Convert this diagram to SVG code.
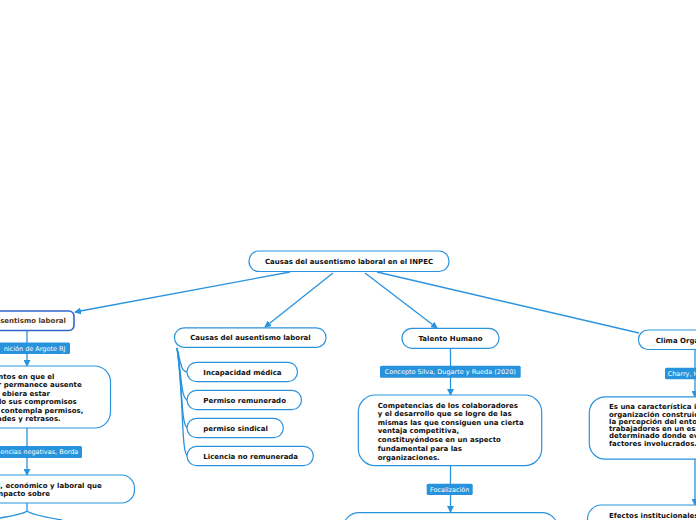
<svg xmlns="http://www.w3.org/2000/svg" width="696" height="520" viewBox="0 0 696 520">
<defs>
<marker id="arr" markerUnits="userSpaceOnUse" markerWidth="7" markerHeight="7" refX="6" refY="3.5" orient="auto">
<path d="M0,0 L7,3.5 L0,7 z" fill="#2a93de"/>
</marker>
<style>
.node{fill:#fff;stroke:#2a93de;stroke-width:1.2}
.root{fill:#fff;stroke:#3566cc;stroke-width:1.6}
.t{font-family:"DejaVu Sans","Liberation Sans",sans-serif;font-size:7px;font-weight:bold;fill:#111}
.lbl{fill:#2793dc}
.lt{font-family:"DejaVu Sans","Liberation Sans",sans-serif;font-size:6.5px;fill:#fff}
.c{fill:none;stroke:#2a93de;stroke-width:1.3}
</style>
</defs>
<rect width="696" height="520" fill="#fff"/>

<g id="connectors">
<path class="c" d="M290,272 L75,312" marker-end="url(#arr)"/>
<path class="c" d="M333,273 L265,327" marker-end="url(#arr)"/>
<path class="c" d="M365,273 L437,328" marker-end="url(#arr)"/>
<path class="c" d="M377,272 L639,333"/>
<path class="c" d="M27,331 L27,366" marker-end="url(#arr)"/>
<path class="c" d="M27,428 L27,475" marker-end="url(#arr)"/>
<path class="c" d="M27,503 L27,511 Q24,514 0,518"/>
<path class="c" d="M27,511 Q32,515 62,520"/>
<path class="c" d="M450.5,348 L450.5,395" marker-end="url(#arr)"/>
<path class="c" d="M450.5,466 L450.5,512" marker-end="url(#arr)"/>
<path class="c" d="M695,350 L695,397" marker-end="url(#arr)"/>
<path class="c" d="M695,459 L695,505" marker-end="url(#arr)"/>
<path class="c" d="M177,348 C181,364 181,372 188,372"/>
<path class="c" d="M177,348 C182,378 181,400 188,400"/>
<path class="c" d="M177,348 C183,390 181,428 188,428"/>
<path class="c" d="M177,348 C184,400 181,456 188,456"/>
</g>

<g id="n-central">
<rect class="node" x="249" y="251" width="200" height="20.5" rx="10"/>
<text class="t" x="349" y="263.7" text-anchor="middle">Causas del ausentismo laboral en el INPEC</text>
</g>

<g id="n-ausentismo">
<rect class="root" x="-20" y="311" width="94" height="19.5" rx="5"/>
<text class="t" x="66" y="323.3" text-anchor="end" style="fill:#5a3512">sentismo laboral</text>
</g>
<g id="l-argote">
<rect class="lbl" x="-10" y="342.5" width="80" height="11.5" rx="1.5"/>
<text class="lt" x="65.5" y="350.6" text-anchor="end">nición de Argote RJ</text>
</g>
<g id="n-definicion">
<rect class="node" x="-40" y="366" width="150.5" height="62" rx="16"/>
<text class="t" x="54.5" y="378.7" text-anchor="end">ntos en que el</text>
<text class="t" x="81.7" y="387.2" text-anchor="end">r permanece ausente</text>
<text class="t" x="50" y="395.7" text-anchor="end">ebiera estar</text>
<text class="t" x="76.7" y="404.2" text-anchor="end">lo sus compromisos</text>
<text class="t" x="83.3" y="412.7" text-anchor="end">contempla permisos,</text>
<text class="t" x="60.7" y="421.2" text-anchor="end">ades y retrasos.</text>
</g>
<g id="l-borda">
<rect class="lbl" x="-10" y="446" width="92" height="12" rx="1.5"/>
<text class="lt" x="78.3" y="454.3" text-anchor="end">encias negativas, Borda</text>
</g>
<g id="n-impacto">
<rect class="node" x="-40" y="475" width="174.5" height="28" rx="13"/>
<text class="t" x="101.7" y="487.6" text-anchor="end">l, económico y laboral que</text>
<text class="t" x="50" y="496.1" text-anchor="end">npacto sobre</text>
</g>

<g id="n-causas">
<rect class="node" x="174.5" y="327.8" width="151.5" height="19.5" rx="9.5"/>
<text class="t" x="250.5" y="340.2" text-anchor="middle">Causas del ausentismo laboral</text>
</g>
<g id="n-incapacidad">
<rect class="node" x="187" y="362.3" width="110.5" height="19.3" rx="9.5"/>
<text class="t" x="203.3" y="374.8">Incapacidad médica</text>
</g>
<g id="n-remunerado">
<rect class="node" x="187" y="390.3" width="114.5" height="19.3" rx="9.5"/>
<text class="t" x="203.3" y="402.8">Permiso remunerado</text>
</g>
<g id="n-sindical">
<rect class="node" x="187" y="418.3" width="96.3" height="19.3" rx="9.5"/>
<text class="t" x="203.3" y="430.8">permiso sindical</text>
</g>
<g id="n-licencia">
<rect class="node" x="187" y="446.3" width="126.3" height="19.3" rx="9.5"/>
<text class="t" x="203.3" y="458.8">Licencia no remunerada</text>
</g>

<g id="n-talento">
<rect class="node" x="402" y="328.3" width="97" height="20" rx="10"/>
<text class="t" x="450.5" y="341.2" text-anchor="middle">Talento Humano</text>
</g>
<g id="l-concepto">
<rect class="lbl" x="380" y="365.7" width="140.7" height="12" rx="1.5"/>
<text class="lt" x="450.3" y="374" text-anchor="middle">Concepto Silva, Dugarte y Rueda (2020)</text>
</g>
<g id="n-competencias">
<rect class="node" x="358.3" y="395" width="183.4" height="70.7" rx="17"/>
<text class="t" x="377.7" y="408.2">Competencias de los colaboradores</text>
<text class="t" x="377.7" y="416.4">y el desarrollo que se logre de las</text>
<text class="t" x="377.7" y="424.8">mismas las que consiguen una cierta</text>
<text class="t" x="377.7" y="433.4">ventaja competitiva,</text>
<text class="t" x="377.7" y="442.3">constituyéndose en un aspecto</text>
<text class="t" x="377.7" y="451">fundamental para las</text>
<text class="t" x="377.7" y="459.5">organizaciones.</text>
</g>
<g id="l-focalizacion">
<rect class="lbl" x="426.7" y="483.8" width="46" height="11.3" rx="1.5"/>
<text class="lt" x="449.7" y="491.8" text-anchor="middle">Focalización</text>
</g>
<g id="n-focalizacion">
<rect class="node" x="343" y="512.7" width="215" height="40" rx="16"/>
</g>

<g id="n-clima">
<rect class="node" x="638.5" y="330" width="80" height="19.5" rx="9.5"/>
<text class="t" x="655.7" y="342.8">Clima Organizacional</text>
</g>
<g id="l-charry">
<rect class="lbl" x="665" y="367.8" width="40" height="11.5" rx="1.5"/>
<text class="lt" x="667.7" y="375.9">Charry, H</text>
</g>
<g id="n-caracteristica">
<rect class="node" x="589.3" y="396.8" width="140" height="62.4" rx="16"/>
<text class="t" x="609" y="409.2">Es una característica in</text>
<text class="t" x="609" y="416.6">organización construid</text>
<text class="t" x="609" y="423.9">la percepción del entor</text>
<text class="t" x="609" y="431.2">trabajadores en un esp</text>
<text class="t" x="609" y="438.3">determinado donde ev</text>
<text class="t" x="609" y="445.8">factores involucrados.</text>
</g>
<g id="n-efectos">
<rect class="node" x="587.5" y="505" width="140" height="40" rx="14"/>
<text class="t" x="609" y="517.5">Efectos institucionales</text>
</g>
</svg>
